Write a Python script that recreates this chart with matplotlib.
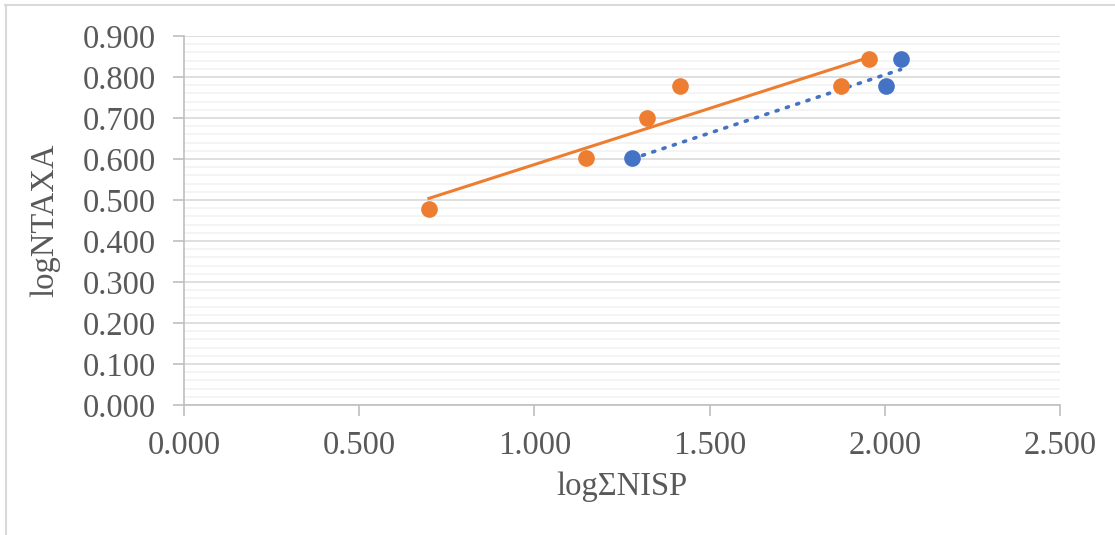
import numpy as np
import matplotlib
matplotlib.use('Agg')
import matplotlib.pyplot as plt
from matplotlib.lines import Line2D
from matplotlib.ticker import MultipleLocator, FormatStrFormatter

# orange series (solid trendline)
orange_x = [0.699, 1.146, 1.322, 1.415, 1.875, 1.954]
orange_y = [0.477, 0.602, 0.699, 0.778, 0.778, 0.845]
# blue series (dotted trendline)
blue_x = [1.279, 2.004, 2.045]
blue_y = [0.602, 0.778, 0.845]

x_label = 'log\u03a3NISP'
y_label = 'logNTAXA'

ORANGE = '#ED7D31'
BLUE = '#4472C4'
GREY = '#595959'

plt.rcParams['font.family'] = ['Liberation Serif', 'DejaVu Serif']

fig = plt.figure(figsize=(11.15, 5.35), dpi=100)
ax = fig.add_axes([184/1115, 1 - 405/535, (1060-184)/1115, (405-36)/535])

# frame around the chart area (only top and left show)
fig.add_artist(Line2D([5/1115, 1.0], [1 - 5/535, 1 - 5/535], transform=fig.transFigure,
                      color='#d9d9d9', lw=1.5))
fig.add_artist(Line2D([6/1115, 6/1115], [0, 1 - 5/535], transform=fig.transFigure,
                      color='#d9d9d9', lw=1.5))

ax.set_xlim(0, 2.5)
ax.set_ylim(0, 0.9)
ax.xaxis.set_major_locator(MultipleLocator(0.5))
ax.yaxis.set_major_locator(MultipleLocator(0.1))
ax.yaxis.set_minor_locator(MultipleLocator(0.02))
ax.xaxis.set_major_formatter(FormatStrFormatter('%.3f'))
ax.yaxis.set_major_formatter(FormatStrFormatter('%.3f'))

ax.grid(which='minor', axis='y', color='#f2f2f2', lw=1.2)
ax.grid(which='major', axis='y', color='#d9d9d9', lw=1.2)
ax.set_axisbelow(True)

for s in ['top', 'right']:
    ax.spines[s].set_visible(False)
for s in ['left', 'bottom']:
    ax.spines[s].set_color('#bfbfbf')
    ax.spines[s].set_linewidth(1.2)

ax.tick_params(axis='both', which='major', direction='out', length=8, width=1.2,
               color='#bfbfbf', labelcolor=GREY, labelsize=23.5)
ax.tick_params(axis='y', which='minor', length=0)
ax.tick_params(axis='y', pad=12)
ax.tick_params(axis='x', pad=10)

# trendlines
for xs, ys, col, ls in [(orange_x, orange_y, ORANGE, '-'), (blue_x, blue_y, BLUE, ':')]:
    k, b = np.polyfit(xs, ys, 1)
    tx = np.array([min(xs), max(xs)])
    line, = ax.plot(tx, k * tx + b, color=col, lw=2.2, ls=ls, zorder=2)
    if ls == ':':
        line.set_dashes([0.6, 2.4])
        line.set_dash_capstyle('round')
        line.set_linewidth(2.6)

ax.plot(orange_x, orange_y, 'o', color=ORANGE, ms=12, mew=0, zorder=3)
ax.plot(blue_x, blue_y, 'o', color=BLUE, ms=12, mew=0, zorder=3)

ax.set_xlabel(x_label, fontsize=23.5, color=GREY, labelpad=8)
ax.set_ylabel(y_label, fontsize=23.5, color=GREY, labelpad=16)

fig.savefig('out.png', dpi=100)
